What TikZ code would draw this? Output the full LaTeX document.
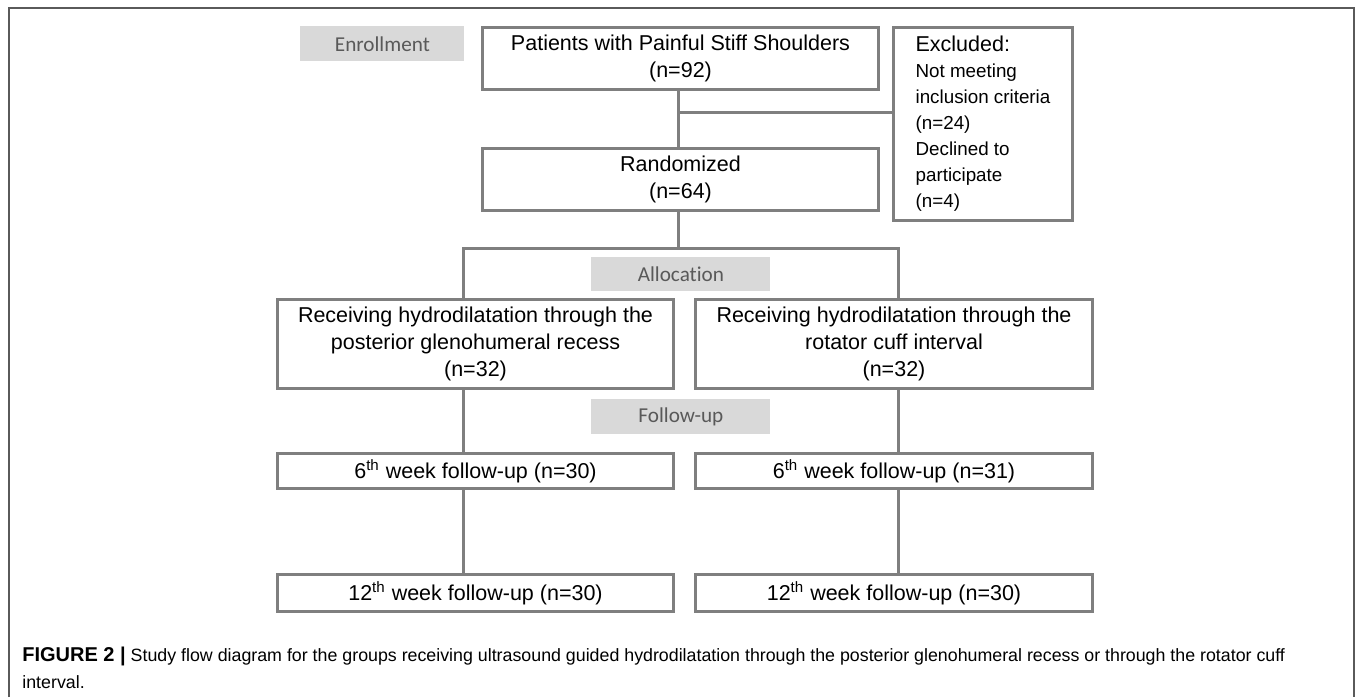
\documentclass[tikz,border=0pt]{standalone}
\usepackage{fontspec}
\setmainfont{Liberation Sans}
\newfontfamily\phasefont[Ligatures=NoCommon]{Carlito}
\definecolor{boxgray}{HTML}{7F7F7F}
\definecolor{phasefill}{HTML}{D9D9D9}
\definecolor{phasetext}{HTML}{595959}
\definecolor{framegray}{HTML}{5A5A5A}
\begin{document}
\begin{tikzpicture}[x=0.5pt,y=-0.5pt,
  box/.style={draw=boxgray, line width=1.5pt, fill=white, align=center, inner sep=0pt,
    anchor=north west, font=\fontsize{10.75}{13.3}\selectfont},
  phase/.style={fill=phasefill, text=phasetext, inner sep=0pt, anchor=north west,
    minimum width=89.5pt, minimum height=17pt, font=\phasefont\fontsize{10.6}{12}\selectfont},
  link/.style={draw=boxgray, line width=1.5pt},
  framestyle/.style={draw=framegray, line width=0.7pt}]
\useasboundingbox (0,0) rectangle (1355,697);
% frame
\draw[framestyle] (9,697) -- (9,8) -- (1354,8) -- (1354,697);

% phase labels
\node[phase, minimum width=82pt, minimum height=17.5pt] (enr) at (300,26) {Enrollment};
\node[phase] (alloc) at (591,257) {Allocation};
\node[phase, minimum height=17.5pt] (fup) at (591,399) {Follow-up};

% boxes
\node[box, minimum width=198pt, minimum height=31pt] (pat) at (481,26)
  {Patients with Painful Stiff Shoulders\\(n=92)};
\node[box, minimum width=198pt, minimum height=31pt] (rand) at (481,147)
  {Randomized\\(n=64)};
\node[box, minimum width=89.5pt, minimum height=96.5pt, align=left,
  font=\fontsize{9.4}{13}\selectfont] (exc) at (892,26)
  {{\fontsize{10.75}{13}\selectfont Excluded:}\\Not meeting\\inclusion criteria\\(n=24)\\Declined to\\participate\\(n=4)};
\node[box, minimum width=198pt, minimum height=44.5pt] (g1) at (276,298)
  {Receiving hydrodilatation through the\\posterior glenohumeral recess\\(n=32)};
\node[box, minimum width=198.5pt, minimum height=44.5pt] (g2) at (694,298)
  {Receiving hydrodilatation through the\\rotator cuff interval\\(n=32)};
\node[box, minimum width=198pt, minimum height=17.5pt] (w6a) at (276,452)
  {6\textsuperscript{th} week follow-up (n=30)};
\node[box, minimum width=198.5pt, minimum height=17.5pt] (w6b) at (694,452)
  {6\textsuperscript{th} week follow-up (n=31)};
\node[box, minimum width=198pt, minimum height=18.5pt] (w12a) at (276,573)
  {12\textsuperscript{th} week follow-up (n=30)};
\node[box, minimum width=198.5pt, minimum height=18.5pt] (w12b) at (694,573)
  {12\textsuperscript{th} week follow-up (n=30)};

% connectors
\coordinate (split) at (678,248);
\coordinate (jl) at (463,248);
\coordinate (jr) at (898,248);
\coordinate (excj) at (678,112);
\draw[link] (pat.south -| excj) -- (rand.north -| excj);
\draw[link] (excj) -- (excj -| exc.west);
\draw[link] (rand.south -| split) -- (split);
\draw[link] (jl |- g1.north) -- (jl) -- (jr) -- (jr |- g2.north);
\draw[link] (jl |- g1.south) -- (jl |- w6a.north);
\draw[link] (jl |- w6a.south) -- (jl |- w12a.north);
\draw[link] (jr |- g2.south) -- (jr |- w6b.north);
\draw[link] (jr |- w6b.south) -- (jr |- w12b.north);

% caption
\node[anchor=north west, inner sep=0pt, align=left, font=\fontsize{8.9}{13.5}\selectfont] (cap) at (22,647)
  {{\fontsize{10}{13.5}\selectfont\textbf{FIGURE 2 |}} Study flow diagram for the groups receiving ultrasound guided hydrodilatation through the posterior glenohumeral recess or through the rotator cuff\\interval.};
\end{tikzpicture}
\end{document}
